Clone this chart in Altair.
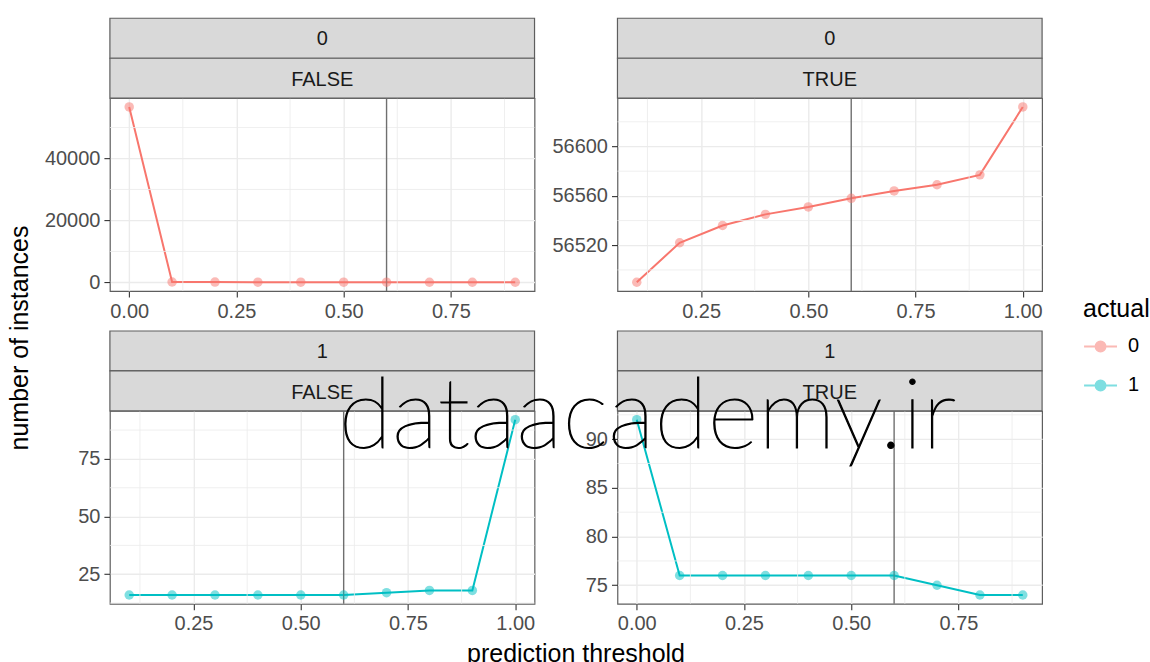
import altair as alt
import pandas as pd

# ---- data ----
thr_lo = [0.0, 0.1, 0.2, 0.3, 0.4, 0.5, 0.6, 0.7, 0.8, 0.9]
thr_hi = [0.1, 0.2, 0.3, 0.4, 0.5, 0.6, 0.7, 0.8, 0.9, 1.0]

# actual = 0, prediction FALSE / TRUE
a0_false = [56632, 142, 110, 96, 87, 81, 74, 68, 63, 55]
a0_true = [56490, 56522, 56536, 56545, 56551, 56558, 56564, 56569, 56577, 56632]
# actual = 1, prediction FALSE / TRUE
a1_false = [16, 16, 16, 16, 16, 16, 17, 18, 18, 92]
a1_true = [92, 76, 76, 76, 76, 76, 76, 75, 74, 74]

cutoff = [0.6]
actual_levels = ["0", "1"]
actual_colors = ["#F8766D", "#00BFC4"]

x_major_lo = [0.0, 0.25, 0.5, 0.75]
x_major_hi = [0.25, 0.5, 0.75, 1.0]
x_minor = [0.125, 0.375, 0.625, 0.875]

y_major = {
    "p1": [0, 20000, 40000],
    "p2": [56520, 56560, 56600],
    "p3": [25, 50, 75],
    "p4": [75, 80, 85, 90],
}
y_minor = {
    "p1": [10000, 30000, 50000],
    "p2": [56500, 56540, 56580, 56620],
    "p3": [12.5, 37.5, 62.5, 87.5],
    "p4": [77.5, 82.5, 87.5, 92.5],
}

W, H = 425, 193
BORDER = "#5e5e5e"
STRIP_FILL = "#D9D9D9"
GRID = "#EBEBEB"
FONT = "Liberation Sans"


def expand(vals, frac=0.05):
    lo, hi = min(vals), max(vals)
    d = (hi - lo) * frac
    return [lo - d, hi + d]


def major_axis(major, fmt):
    return alt.Axis(
        title=None,
        values=major,
        format=fmt,
        labelOverlap=False,
        gridColor=GRID,
        gridWidth=1.4,
        domain=False,
    )


def panel(xs, ys, actual, top_label, bottom_label, xmajor, key, extra=None):
    df = pd.DataFrame({"threshold": xs, "count": ys, "actual": [actual] * len(xs)})
    xenc = alt.X(
        "threshold:Q",
        scale=alt.Scale(domain=expand(xs), nice=False, zero=False),
        axis=major_axis(xmajor, ".2f"),
    )
    yenc = alt.Y(
        "count:Q",
        scale=alt.Scale(domain=expand(ys), nice=False, zero=False),
        axis=major_axis(y_major[key], "d"),
    )
    color = alt.Color(
        "actual:N",
        scale=alt.Scale(domain=actual_levels, range=actual_colors),
        legend=alt.Legend(
            title="actual",
            orient="none",
            legendX=974,
            legendY=199,
            padding=0,
            titleFontSize=25,
            titleFontWeight="normal",
            titleColor="#000000",
            titlePadding=7,
            labelFontSize=20,
            labelColor="#000000",
            labelOffset=10,
            rowPadding=11,
            symbolType="M-1,0L1,0M0.3,0A0.3,0.3,0,1,1,-0.3,0A0.3,0.3,0,1,1,0.3,0Z",
            symbolSize=1089,
            symbolStrokeWidth=2,
            symbolOpacity=1,
            symbolStrokeColor={"expr": "scale('color', datum.value)"},
            symbolFillColor={"expr": "scale('color', datum.value)"},
        ),
    )
    base = alt.Chart(df)
    line = base.mark_line(strokeWidth=2).encode(x=xenc, y=yenc, color=color)
    minor_x = alt.Chart(pd.DataFrame({"threshold": x_minor})).mark_rule(
        color=GRID, strokeWidth=0.8
    ).encode(x=alt.X("threshold:Q"))
    minor_y = alt.Chart(pd.DataFrame({"count": y_minor[key]})).mark_rule(
        color=GRID, strokeWidth=0.8
    ).encode(y=alt.Y("count:Q"))
    rule = alt.Chart(pd.DataFrame({"threshold": cutoff})).mark_rule(
        color="#6f6f6f", strokeWidth=1.4
    ).encode(x=alt.X("threshold:Q"))
    pts = base.mark_point(filled=True, size=90, opacity=0.5).encode(
        x="threshold:Q", y="count:Q", color=alt.Color("actual:N")
    )
    s1 = alt.Chart(pd.DataFrame({"label": [top_label]}))
    s2 = alt.Chart(pd.DataFrame({"label": [bottom_label]}))
    strip_top = s1.mark_rect(fill=STRIP_FILL, stroke=BORDER, strokeWidth=1.2).encode(
        x=alt.value(0), x2=alt.value(W), y=alt.value(-80), y2=alt.value(-40)
    )
    strip_bot = s2.mark_rect(fill=STRIP_FILL, stroke=BORDER, strokeWidth=1.2).encode(
        x=alt.value(0), x2=alt.value(W), y=alt.value(-40), y2=alt.value(0)
    )
    txt_top = s1.mark_text(fontSize=20, color="#1A1A1A", font=FONT).encode(
        text="label:N", x=alt.value(W / 2), y=alt.value(-59)
    )
    txt_bot = s2.mark_text(fontSize=20, color="#1A1A1A", font=FONT).encode(
        text="label:N", x=alt.value(W / 2), y=alt.value(-18)
    )
    layers = [line, minor_x, minor_y, rule, pts, strip_top, strip_bot, txt_top, txt_bot]
    if extra:
        layers += extra
    return alt.layer(*layers).properties(width=W, height=H)


titles = pd.DataFrame({"xt": ["prediction threshold"], "yt": ["number of instances"]})
x_title = alt.Chart(titles).mark_text(
    fontSize=25, color="#000000", font=FONT, align="center", baseline="middle"
).encode(text="xt:N", x=alt.value(466.5), y=alt.value(243))
y_title = alt.Chart(titles).mark_text(
    fontSize=25, color="#000000", font=FONT, align="center", baseline="middle", angle=270
).encode(text="yt:N", x=alt.value(-90), y=alt.value(-73))

wm = pd.DataFrame({"wm": ["dataacademy.ir"]})
watermark = alt.Chart(wm).mark_text(
    fontSize=98, color="#000000", font="Lato", fontWeight=200,
    stroke="#000000", strokeWidth=1.1,
    align="left", baseline="alphabetic"
).encode(text="wm:N", x=alt.value(-279), y=alt.value(37))

p1 = panel(thr_lo, a0_false, "0", "0", "FALSE", x_major_lo, "p1")
p2 = panel(thr_hi, a0_true, "0", "0", "TRUE", x_major_hi, "p2")
p3 = panel(thr_hi, a1_false, "1", "1", "FALSE", x_major_hi, "p3", [x_title, y_title])
p4 = panel(thr_lo, a1_true, "1", "1", "TRUE", x_major_lo, "p4", [watermark])

chart = alt.ConcatChart(
    concat=[p1, p2, p3, p4],
    columns=2,
    spacing=alt.RowColnumber(row=120, column=83),
    bounds="flush",
    padding={"left": 7, "top": 16, "right": 0, "bottom": 0},
).configure(font=FONT).configure_view(
    stroke=BORDER, strokeWidth=1.2, fill="white"
).configure_axis(
    tickColor="#333333",
    tickSize=6,
    tickWidth=1.1,
    labelFontSize=20,
    labelColor="#4D4D4D",
    labelFont=FONT,
    labelPadding=4,
)

chart.save("out.html", embed_options={"renderer": "svg", "actions": False})
